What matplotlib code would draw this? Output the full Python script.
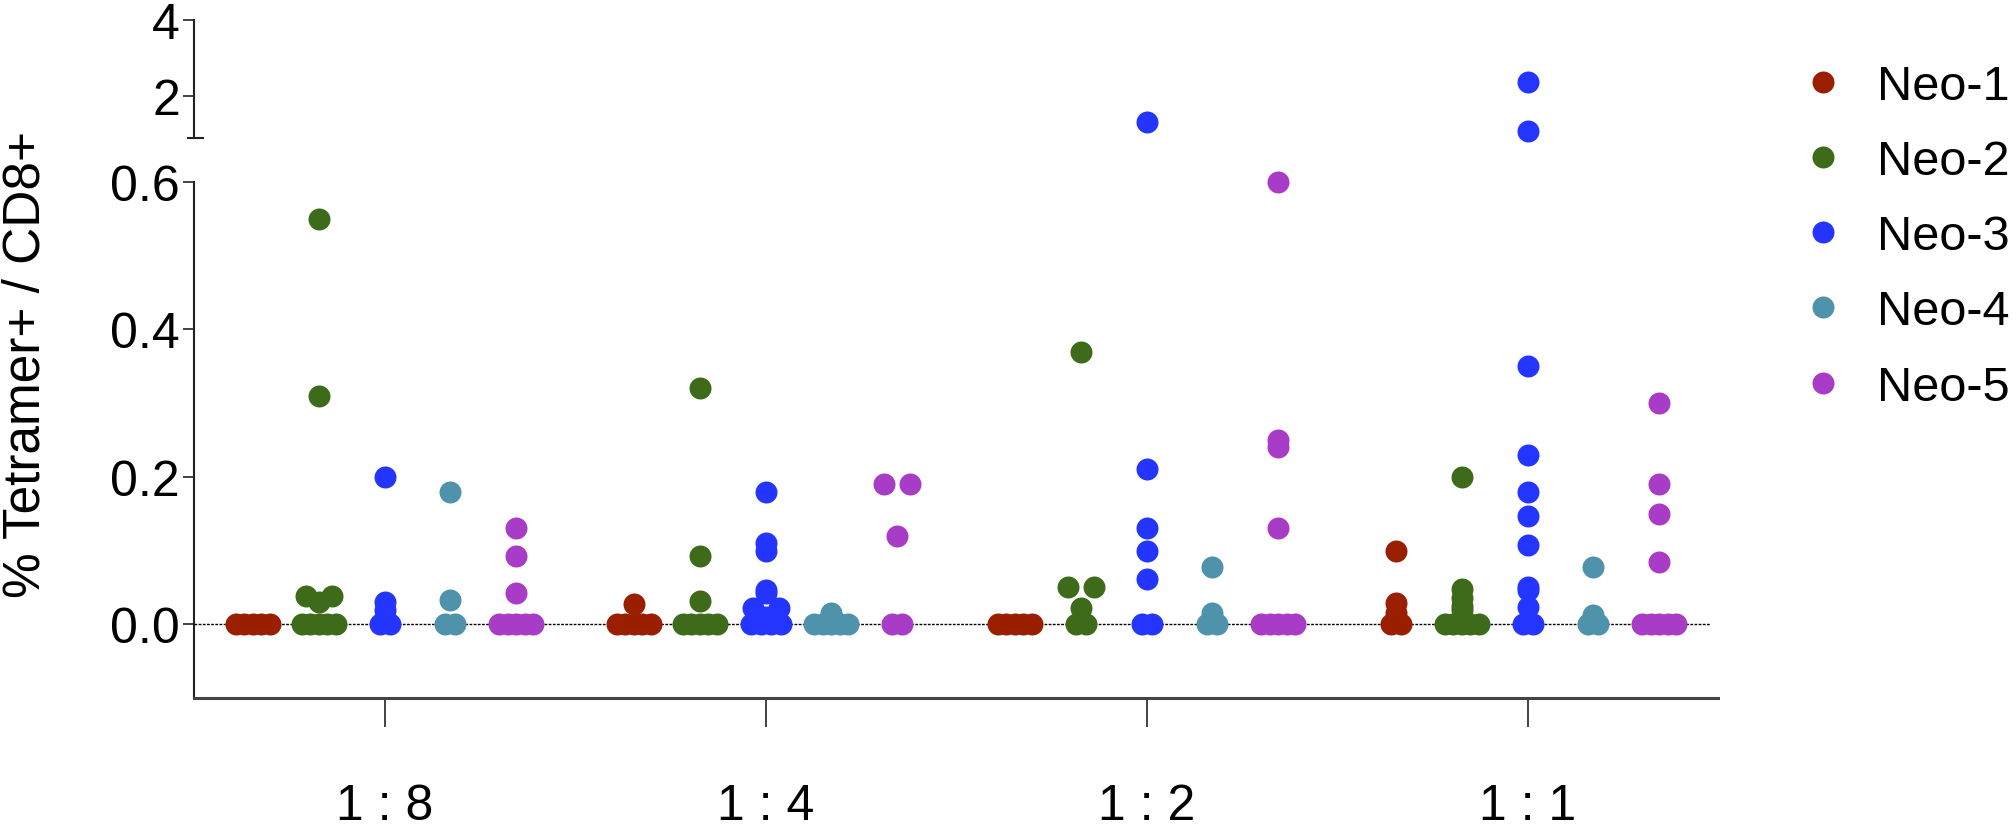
import matplotlib
matplotlib.use("Agg")
import matplotlib.pyplot as plt
import numpy as np

# ---- data ----
groups = ["1 : 8", "1 : 4", "1 : 2", "1 : 1"]
series = ["Neo-1", "Neo-2", "Neo-3", "Neo-4", "Neo-5"]
colors = ["#9a1f00", "#3d6b1a", "#2335ff", "#4e93ab", "#a83cc6"]

neo1 = [
    [0, 0, 0, 0, 0],
    [0.027, 0, 0, 0, 0, 0],
    [0, 0, 0, 0, 0],
    [0.099, 0.029, 0.015, 0, 0],
]
neo2 = [
    [0.55, 0.31, 0.038, 0.038, 0.03, 0, 0, 0, 0, 0],
    [0.32, 0.092, 0.031, 0, 0, 0, 0, 0],
    [0.37, 0.05, 0.05, 0.022, 0, 0],
    [0.2, 0.048, 0.036, 0.025, 0.02, 0, 0, 0, 0, 0],
]
neo3 = [
    [0.2, 0.03, 0.02, 0.01, 0, 0],
    [0.18, 0.11, 0.10, 0.047, 0.043, 0.022, 0.022, 0.01, 0, 0, 0, 0],
    [1.31, 0.21, 0.13, 0.10, 0.062, 0, 0],
    [2.37, 1.08, 0.35, 0.23, 0.18, 0.147, 0.108, 0.05, 0.046, 0.024, 0, 0],
]
neo4 = [
    [0.18, 0.033, 0, 0],
    [0.015, 0.012, 0.01, 0, 0, 0, 0, 0],
    [0.078, 0.015, 0.01, 0, 0],
    [0.078, 0.012, 0.01, 0, 0],
]
neo5 = [
    [0.13, 0.093, 0.043, 0, 0, 0, 0, 0],
    [0.19, 0.19, 0.12, 0, 0],
    [0.6, 0.25, 0.24, 0.13, 0, 0, 0, 0, 0],
    [0.30, 0.19, 0.15, 0.085, 0, 0, 0, 0, 0],
]
all_data = [neo1, neo2, neo3, neo4, neo5]

W, H = 2016, 828
fig = plt.figure(figsize=(W / 100, H / 100), dpi=100)

# lower segment -0.1..0.6, upper segment 0.9..4
ax = fig.add_axes([194 / W, (H - 699) / H, 1524 / W, (699 - 183) / H])
ax_top = fig.add_axes([194 / W, (H - 139) / H, 1524 / W, (139 - 20.7) / H])

for a in (ax, ax_top):
    a.set_xlim(-0.5, 3.5)
    for s in ["top", "right"]:
        a.spines[s].set_visible(False)
    a.spines["left"].set_linewidth(1.5)
    a.spines["left"].set_color("#222222")
ax.set_ylim(-0.1, 0.6)
ax_top.set_ylim(0.9, 4)
ax_top.spines["bottom"].set_visible(False)
ax_top.set_xticks([])
ax.spines["bottom"].set_linewidth(2.2)
ax.spines["bottom"].set_color("#444444")

tick_font = ["Liberation Sans Narrow", "Liberation Sans", "DejaVu Sans"]
text_font = ["Liberation Sans", "DejaVu Sans"]

ax.set_yticks([0.0, 0.2, 0.4, 0.6])
ax.set_yticklabels(["0.0", "0.2", "0.4", "0.6"])
ax_top.set_yticks([2, 4])
ax_top.set_yticklabels(["2", "4"])
for a in (ax, ax_top):
    a.tick_params(axis="y", direction="out", length=8, width=1.2, pad=2,
                  labelsize=36, color="#222222")
    for lab in a.get_yticklabels():
        lab.set_family(tick_font)

ax.set_xticks(range(len(groups)))
ax.set_xticklabels(groups)
ax.tick_params(axis="x", direction="out", length=21, width=1.2, pad=40,
               labelsize=36, color="#222222")
for lab in ax.get_xticklabels():
    lab.set_family(tick_font)

# end cap of the upper segment
ax_top.plot([-0.004, 0.006], [0, 0], transform=ax_top.transAxes,
            color="#222222", lw=1.5, clip_on=False)

# dotted zero line
ax.axhline(0, xmin=0, xmax=0.995, color="black", lw=1.0,
           linestyle=(0, (2, 1)), zorder=1)

# ---- swarm-like spread ----
px_per_unit = ax.transData.transform((1, 0))[0] - ax.transData.transform((0, 0))[0]
offsets = [-0.346, -0.173, 0.0, 0.173, 0.346]


def spread(values, zero_gap=10, gap=26, max_half=17):
    xs, ys = [], []
    uniq = []
    for v in values:
        if v not in uniq:
            uniq.append(v)
    for v in uniq:
        n = values.count(v)
        sp = zero_gap if v == 0 else gap
        if n > 1:
            sp = min(sp, 2 * max_half / (n - 1))
        for k in range(n):
            xs.append((k - (n - 1) / 2) * sp)
            ys.append(v)
    return np.array(xs) / px_per_unit, np.array(ys)


ms = (22 * 72 / 100) ** 2
for j, data in enumerate(all_data):
    for i, vals in enumerate(data):
        dx, vy = spread(vals)
        x = i + offsets[j] + dx
        low = vy < 0.9
        ax.scatter(x[low], vy[low], s=ms, color=colors[j], linewidths=0,
                   zorder=3, clip_on=False)
        if (~low).any():
            ax_top.scatter(x[~low], vy[~low], s=ms, color=colors[j],
                           linewidths=0, zorder=3, clip_on=False)

fig.text(26 / W, 1 - 365 / H, "% Tetramer+ / CD8+", rotation=90,
         ha="center", va="center", fontsize=37, family=text_font)

handles = [plt.Line2D([], [], marker="o", linestyle="", markersize=22 * 72 / 100,
                      markeredgewidth=0, color=c) for c in colors]
leg = fig.legend(handles, series, loc="upper left",
                 bbox_to_anchor=(1799 / W, 1 - 65 / H), frameon=False,
                 prop={"family": text_font, "size": 35}, handlelength=1.0,
                 handletextpad=0.6, labelspacing=0.62, borderpad=0,
                 borderaxespad=0)

fig.savefig("out.png", dpi=100)
